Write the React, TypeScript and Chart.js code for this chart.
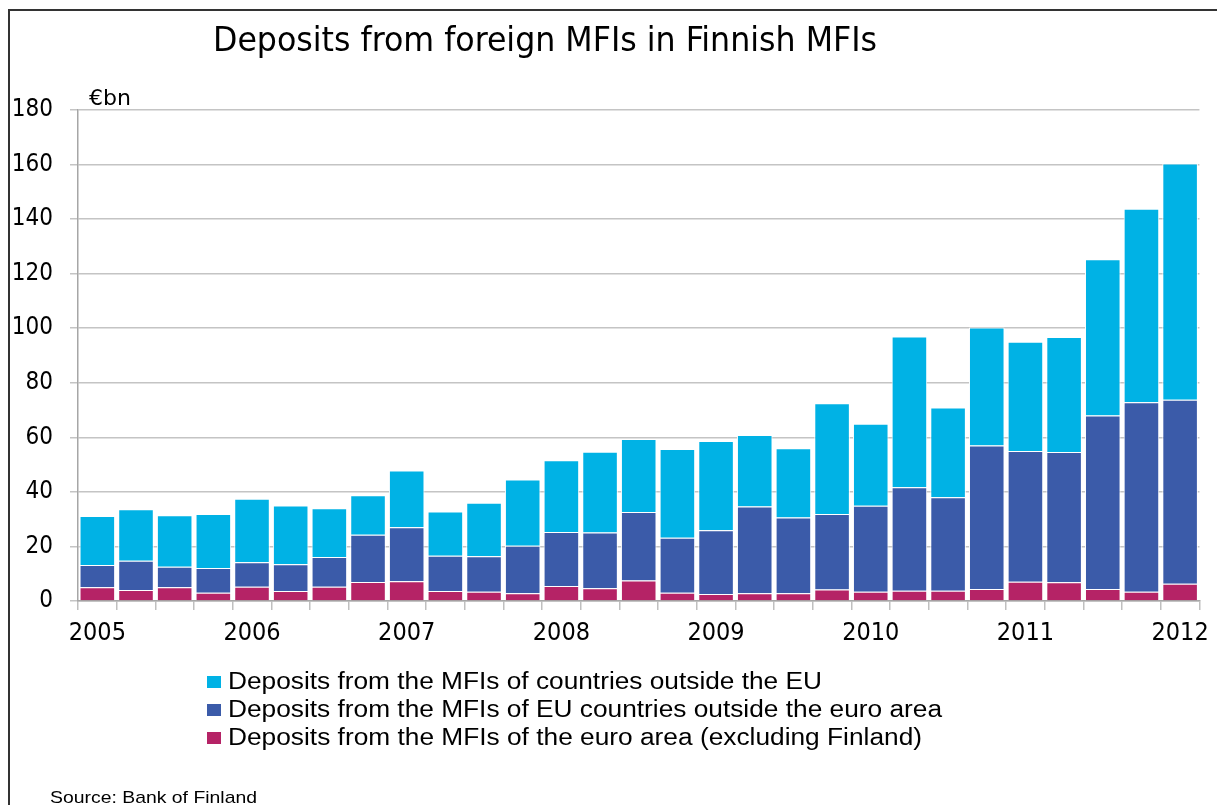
import React, { useEffect, useRef } from "react";
import { Chart, registerables } from "chart.js";

Chart.register(...registerables);

// Quarterly categories, 2005 Q1 – 2012 Q1
const quarters = [
  "2005Q1", "2005Q2", "2005Q3", "2005Q4",
  "2006Q1", "2006Q2", "2006Q3", "2006Q4",
  "2007Q1", "2007Q2", "2007Q3", "2007Q4",
  "2008Q1", "2008Q2", "2008Q3", "2008Q4",
  "2009Q1", "2009Q2", "2009Q3", "2009Q4",
  "2010Q1", "2010Q2", "2010Q3", "2010Q4",
  "2011Q1", "2011Q2", "2011Q3", "2011Q4",
  "2012Q1",
];

const xTickLabels = [
  "2005", "", "", "",
  "2006", "", "", "",
  "2007", "", "", "",
  "2008", "", "", "",
  "2009", "", "", "",
  "2010", "", "", "",
  "2011", "", "", "",
  "2012",
];

const yTicks = [0, 20, 40, 60, 80, 100, 120, 140, 160, 180];

// € bn
const euroAreaExFinland = [
  5.0, 4.0, 5.0, 3.0, 5.2, 3.7, 5.2, 7.0, 7.2, 3.7, 3.4, 2.8, 5.5, 4.7, 7.5,
  3.0, 2.6, 2.8, 2.8, 4.2, 3.4, 3.8, 3.8, 4.4, 7.1, 6.9, 4.4, 3.4, 6.3,
];
const euOutsideEuroArea = [
  8.2, 10.8, 7.6, 9.1, 9.0, 9.8, 10.9, 17.3, 19.8, 12.9, 13.0, 17.5, 19.8, 20.4,
  25.1, 20.2, 23.3, 31.8, 27.8, 27.7, 31.5, 37.9, 34.2, 52.6, 47.9, 47.7, 63.6,
  69.5, 67.5,
];
const outsideEU = [
  18.0, 18.8, 18.8, 19.8, 23.3, 21.5, 17.9, 14.5, 20.8, 16.2, 19.6, 24.2, 26.3,
  29.6, 26.8, 32.5, 32.8, 26.3, 25.4, 40.6, 30.1, 55.3, 32.9, 43.3, 40.0, 42.2,
  57.3, 70.9, 86.6,
];

const seriesNames = [
  "Deposits from the MFIs of countries outside the EU",
  "Deposits from the MFIs of EU countries outside the euro area",
  "Deposits from the MFIs of the euro area (excluding Finland)",
];

const COLORS = {
  outside: "#00B2E5",
  eu: "#3B5BA9",
  euro: "#B52366",
};

const TICK_FONT = "DejaVu Sans Condensed";
const SANS = "Liberation Sans";

const measureCtx: CanvasRenderingContext2D | null =
  typeof document !== "undefined"
    ? document.createElement("canvas").getContext("2d")
    : null;

function FitText(props: {
  text: string;
  left: number;
  baseline: number;
  size: number;
  family: string;
  width?: number;
}) {
  const { text, left, baseline, size, family, width } = props;
  let sx = 1;
  if (width && measureCtx) {
    measureCtx.font = `${size}px "${family}"`;
    const natural = measureCtx.measureText(text).width;
    if (natural > 0) sx = width / natural;
  }
  return (
    <div
      style={{
        position: "absolute",
        left,
        top: baseline - 0.846 * size,
        fontFamily: `"${family}"`,
        fontSize: size,
        lineHeight: `${size}px`,
        whiteSpace: "nowrap",
        color: "#000",
        transform: `scaleX(${sx})`,
        transformOrigin: "0 0",
      }}
    >
      {text}
    </div>
  );
}

export default function App() {
  const canvasRef = useRef<HTMLCanvasElement | null>(null);

  useEffect(() => {
    if (!canvasRef.current) return;
    const chart = new Chart(canvasRef.current, {
      type: "bar",
      data: {
        labels: quarters,
        datasets: [
          {
            label: seriesNames[2],
            data: euroAreaExFinland,
            backgroundColor: COLORS.euro,
            borderColor: "#ffffff",
            borderWidth: 1,
            barPercentage: 0.92,
            categoryPercentage: 1,
          },
          {
            label: seriesNames[1],
            data: euOutsideEuroArea,
            backgroundColor: COLORS.eu,
            borderColor: "#ffffff",
            borderWidth: 1,
            barPercentage: 0.92,
            categoryPercentage: 1,
          },
          {
            label: seriesNames[0],
            data: outsideEU,
            backgroundColor: COLORS.outside,
            borderColor: "#ffffff",
            borderWidth: 1,
            barPercentage: 0.92,
            categoryPercentage: 1,
          },
        ],
      },
      options: {
        responsive: false,
        animation: false,
        layout: { padding: { left: 0, right: 16, top: 110, bottom: 144 } },
        plugins: {
          legend: { display: false },
          tooltip: { enabled: false },
          title: { display: false },
        },
        scales: {
          x: {
            stacked: true,
            offset: true,
            grid: {
              offset: true,
              drawOnChartArea: false,
              drawTicks: true,
              tickLength: 9,
              color: "#bfbfbf",
              lineWidth: 1.5,
            },
            border: { display: true, color: "#a6a6a6", width: 1.5 },
            ticks: {
              autoSkip: false,
              maxRotation: 0,
              minRotation: 0,
              padding: 8,
              color: "#000",
              font: { family: TICK_FONT, size: 25 },
              callback: (_v: any, i: number) => xTickLabels[i],
            },
            afterFit: (s: any) => {
              s.height = 60;
            },
          },
          y: {
            stacked: true,
            min: yTicks[0],
            max: yTicks[yTicks.length - 1],
            afterBuildTicks: (s: any) => {
              s.ticks = yTicks.map((v) => ({ value: v }));
            },
            ticks: {
              padding: 17,
              color: "#000",
              font: { family: TICK_FONT, size: 24 },
            },
            grid: { color: "#c4c4c4", lineWidth: 1.5, tickLength: 8 },
            border: { display: true, color: "#a6a6a6", width: 1.5 },
            afterFit: (s: any) => {
              s.width = 78;
            },
          },
        },
      },
    } as any);
    return () => chart.destroy();
  }, []);

  const legendColors = [COLORS.outside, COLORS.eu, COLORS.euro];
  const legendBaselines = [689, 717, 745];
  const legendWidths = [594, 714, 694];

  return (
    <div
      style={{
        position: "fixed",
        left: 0,
        top: 0,
        width: 1217,
        height: 805,
        overflow: "hidden",
        background: "#fff",
      }}
    >
      <div
        style={{
          position: "absolute",
          left: 8,
          top: 9,
          width: 1400,
          height: 1000,
          borderLeft: "2px solid #333",
          borderTop: "2px solid #333",
        }}
      />
      <canvas
        ref={canvasRef}
        width={1217}
        height={805}
        style={{ position: "absolute", left: 0, top: 0, width: 1217, height: 805 }}
      />
      <FitText
        text="Deposits from foreign MFIs in Finnish MFIs"
        left={213}
        baseline={51}
        size={33}
        family="DejaVu Sans Condensed"
        width={664}
      />
      <FitText text="€bn" left={89} baseline={105.5} size={22} family="DejaVu Sans" width={42} />
      {seriesNames.map((name, i) => (
        <React.Fragment key={name}>
          <div
            style={{
              position: "absolute",
              left: 207,
              top: legendBaselines[i] - 13,
              width: 14,
              height: 12,
              background: legendColors[i],
            }}
          />
          <FitText
            text={name}
            left={228}
            baseline={legendBaselines[i]}
            size={23}
            family={SANS}
            width={legendWidths[i]}
          />
        </React.Fragment>
      ))}
      <FitText text="Source: Bank of Finland" left={50} baseline={803} size={17} family={SANS} width={207} />
    </div>
  );
}
